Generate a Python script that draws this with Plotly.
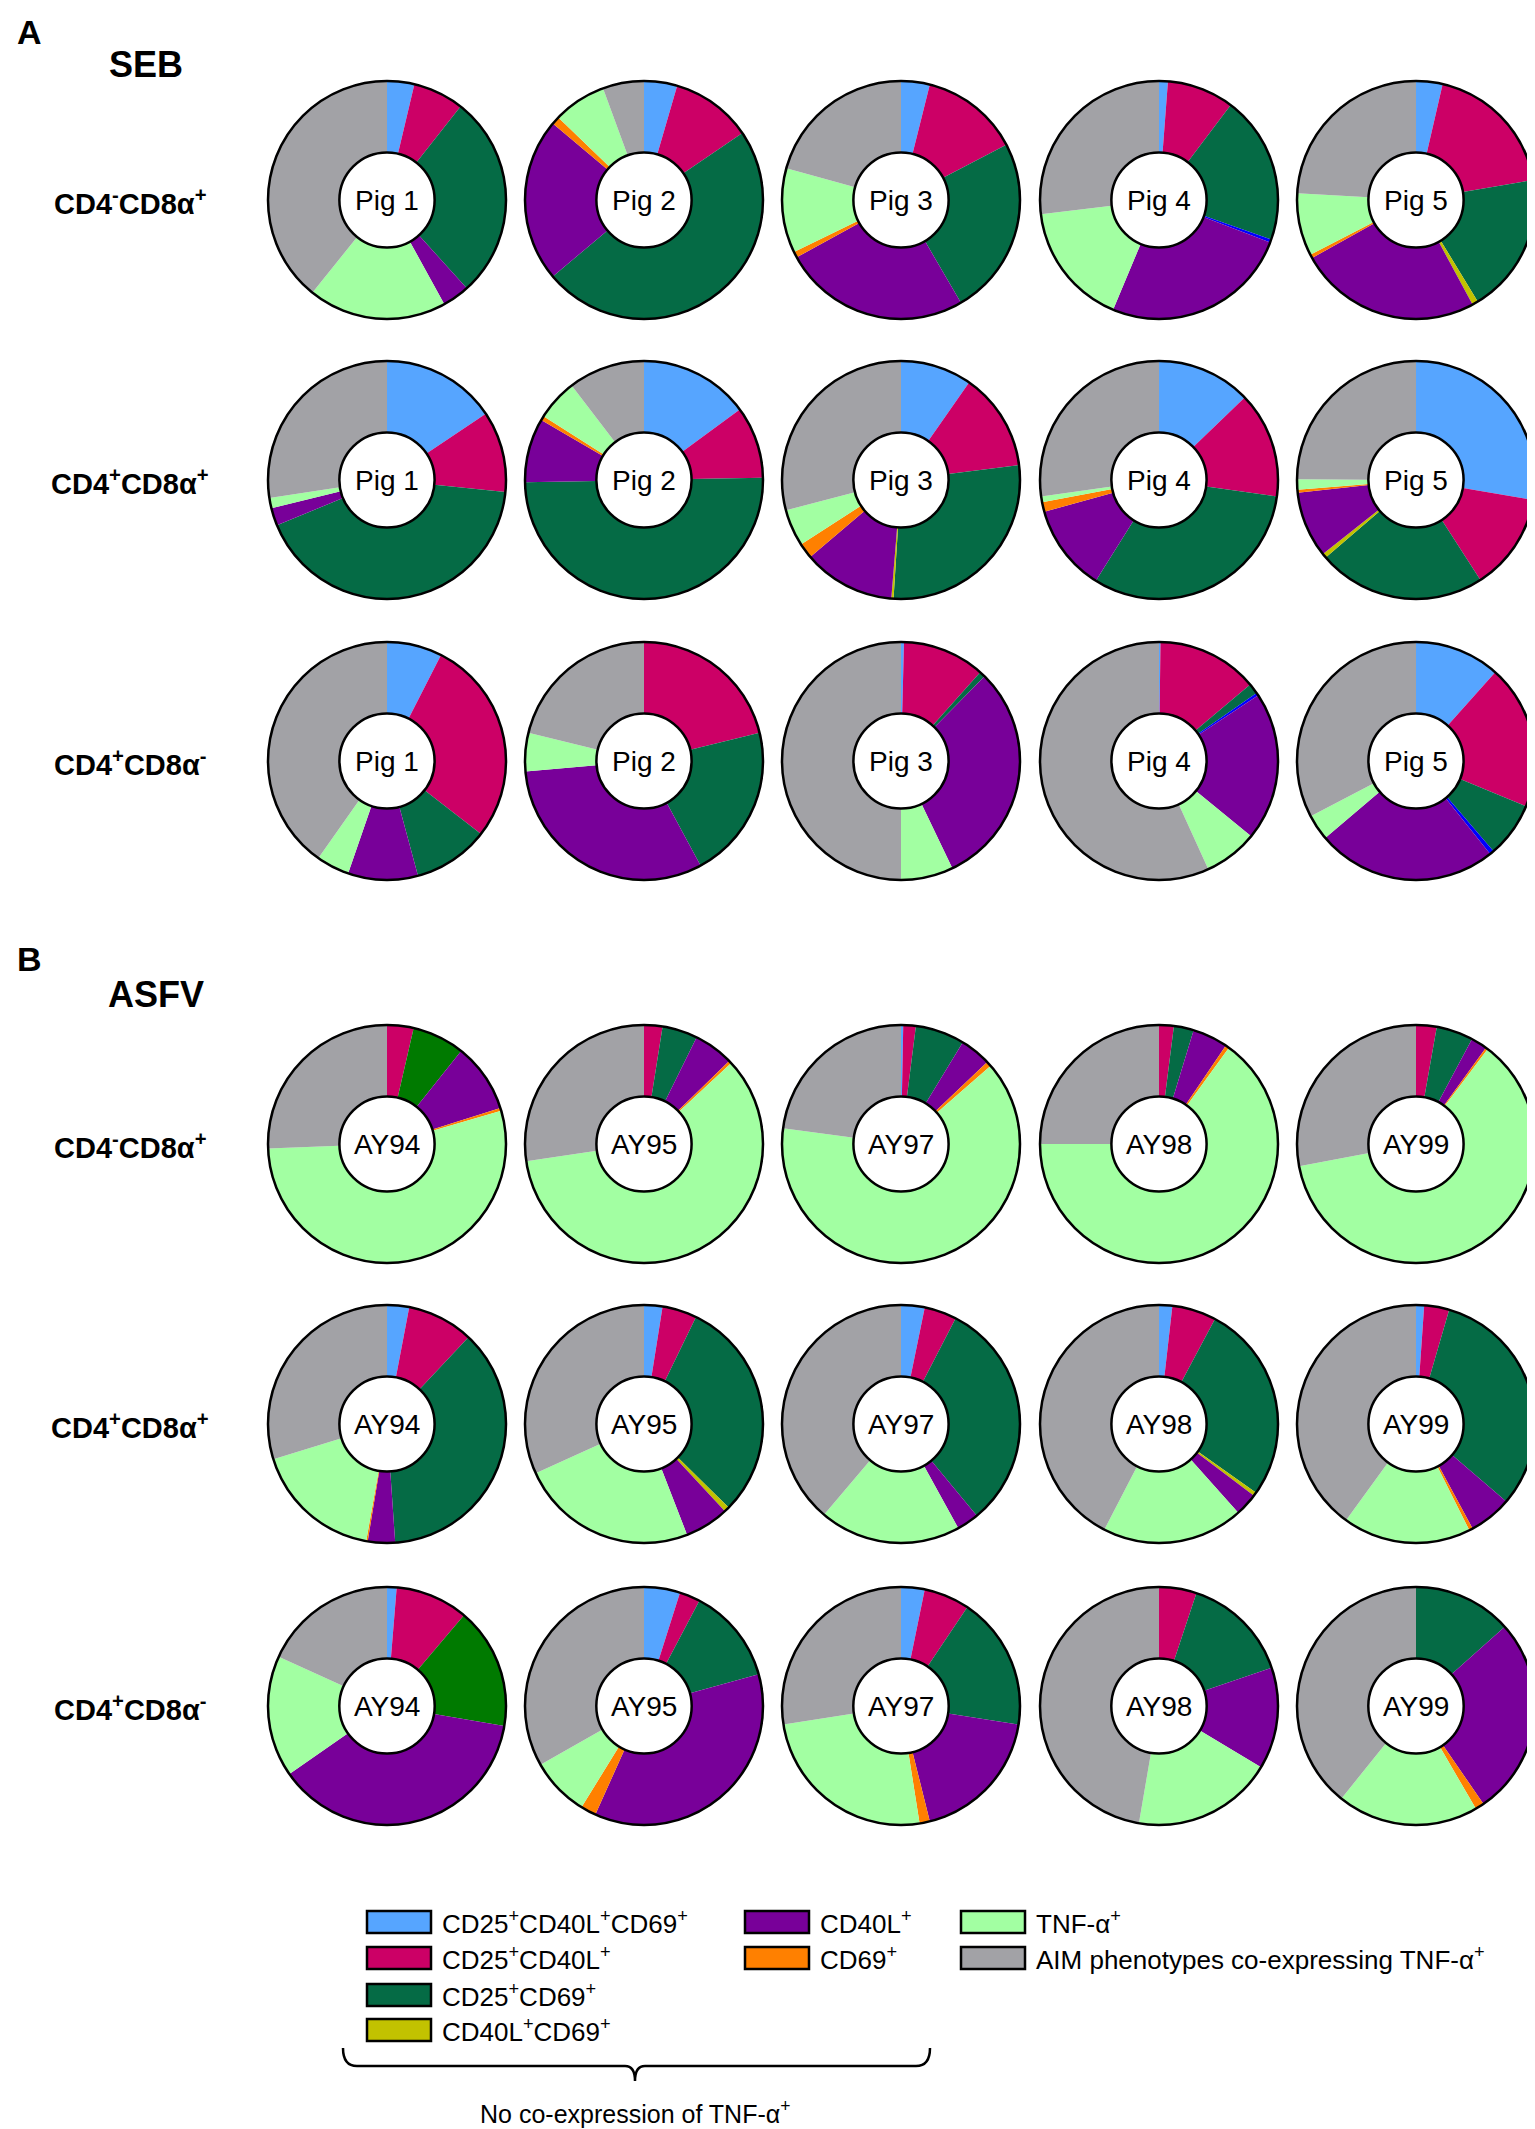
import plotly.graph_objects as go

W, H = 1535, 2129

# slice order, clockwise from 12 o'clock
categories = ["CD25+CD40L+CD69+", "CD25+CD40L+", "CD25+CD69+", "CD25+CD69+ (alt)",
              "other", "CD40L+CD69+", "CD40L+", "CD69+", "TNF-a+", "AIM + TNF-a+"]
colors = ["#56A5FF", "#CC0066", "#056B45", "#007A00", "#0000FF",
          "#C2C200", "#780099", "#FF8000", "#A2FFA2", "#A2A2A6"]

seb_pigs = ["Pig 1", "Pig 2", "Pig 3", "Pig 4", "Pig 5"]
asfv_pigs = ["AY94", "AY95", "AY97", "AY98", "AY99"]
row_labels = ["CD4<sup>-</sup>CD8α<sup>+</sup>", "CD4<sup>+</sup>CD8α<sup>+</sup>",
              "CD4<sup>+</sup>CD8α<sup>-</sup>"]

# fractions per pig, same order as categories
seb_cd4n_cd8p = [
    [.037, .069, .277, 0, 0, 0, .037, 0, .188, .392],
    [.045, .110, .484, 0, 0, 0, .222, .011, .072, .056],
    [.039, .134, .243, 0, 0, 0, .254, .008, .115, .207],
    [.012, .091, .201, 0, .004, 0, .255, 0, .168, .269],
    [.036, .187, .190, 0, 0, .008, .248, .005, .085, .241],
]
seb_cd4p_cd8p = [
    [.156, .110, .422, 0, 0, 0, .024, 0, .014, .274],
    [.149, .098, .500, 0, 0, 0, .087, .006, .056, .104],
    [.097, .133, .280, 0, 0, .003, .125, .021, .050, .291],
    [.128, .144, .317, 0, 0, 0, .118, .013, .008, .272],
    [.277, .132, .228, 0, 0, .006, .090, .004, .014, .249],
]
seb_cd4p_cd8n = [
    [.075, .280, .103, 0, 0, 0, .095, 0, .045, .402],
    [0, .212, .209, 0, 0, 0, .315, 0, .052, .212],
    [.004, .112, .008, 0, 0, 0, .305, 0, .071, .500],
    [.002, .137, .014, 0, .004, 0, .202, 0, .073, .568],
    [.116, .196, .075, 0, .006, 0, .245, 0, .035, .327],
]
asfv_cd4n_cd8p = [
    [0, .036, 0, .071, 0, 0, .094, .004, .539, .256],
    [0, .025, .048, 0, 0, 0, .054, .004, .596, .273],
    [.003, .017, .067, 0, 0, 0, .042, .007, .635, .229],
    [0, .020, .027, 0, 0, 0, .048, .005, .650, .250],
    [0, .028, .050, 0, 0, 0, .022, .003, .617, .280],
]
asfv_cd4p_cd8p = [
    [.030, .090, .369, 0, 0, 0, .037, .002, .174, .298],
    [.025, .047, .302, 0, 0, .007, .060, 0, .241, .318],
    [.032, .044, .314, 0, 0, 0, .030, 0, .192, .388],
    [.018, .060, .270, 0, 0, .005, .031, 0, .192, .424],
    [.011, .034, .318, 0, 0, 0, .058, .005, .174, .400],
]
asfv_cd4p_cd8n = [
    [.013, .099, 0, .165, 0, 0, .376, 0, .165, .182],
    [.049, .028, .130, 0, 0, 0, .360, .021, .080, .332],
    [.032, .062, .181, 0, 0, 0, .186, .014, .250, .275],
    [0, .051, .147, 0, 0, 0, .138, 0, .191, .473],
    [0, 0, .134, 0, 0, 0, .270, .012, .192, .392],
]

legend_cols = [
    [("CD25<sup>+</sup>CD40L<sup>+</sup>CD69<sup>+</sup>", colors[0]),
     ("CD25<sup>+</sup>CD40L<sup>+</sup>", colors[1]),
     ("CD25<sup>+</sup>CD69<sup>+</sup>", colors[2]),
     ("CD40L<sup>+</sup>CD69<sup>+</sup>", colors[5])],
    [("CD40L<sup>+</sup>", colors[6]),
     ("CD69<sup>+</sup>", colors[7])],
    [("TNF-α<sup>+</sup>", colors[8]),
     ("AIM phenotypes co-expressing TNF-α<sup>+</sup>", colors[9])],
]

FONT = "Liberation Sans, Arial, sans-serif"
col_x = [379, 636, 893, 1151, 1408]
row_y = [192, 472, 753, 1136, 1416, 1698]
R = 119


def X(px):
    return px / W


def Y(py):
    return 1 - py / H


def label(x, y, text, size, anchor="center"):
    return dict(x=X(x), y=Y(y), xref="paper", yref="paper", text=text, showarrow=False,
                xanchor=anchor, yanchor="middle",
                font=dict(family=FONT, size=size, color="black"))


fig = go.Figure()
annotations = []
shapes = []

groups = [(seb_cd4n_cd8p, seb_pigs), (seb_cd4p_cd8p, seb_pigs), (seb_cd4p_cd8n, seb_pigs),
          (asfv_cd4n_cd8p, asfv_pigs), (asfv_cd4p_cd8p, asfv_pigs), (asfv_cd4p_cd8n, asfv_pigs)]

for r, (rows, names) in enumerate(groups):
    cy = row_y[r]
    for c, vals in enumerate(rows):
        cx = col_x[c]
        dom = dict(x=[X(cx - R), X(cx + R)], y=[Y(cy + R), Y(cy - R)])
        fig.add_trace(go.Pie(
            values=vals, labels=categories, marker=dict(colors=colors, line=dict(width=0)),
            hole=0.4, sort=False, direction="clockwise", rotation=0,
            textinfo="none", domain=dom, showlegend=False, hoverinfo="label+percent"))
        # outline ring
        fig.add_trace(go.Pie(
            values=[1], labels=["ring"], marker=dict(colors=["rgba(0,0,0,0)"],
                                                     line=dict(color="black", width=2.5)),
            hole=0.4, sort=False, textinfo="none", domain=dom, showlegend=False,
            hoverinfo="skip"))
        annotations.append(label(cx, cy, names[c], 28))
    annotations.append(label(122, cy + 2, "<b>" + row_labels[r % 3] + "</b>", 29))

for txt, x, y, size in [("A", 21, 24, 34), ("SEB", 138, 56, 36),
                        ("B", 21, 951, 34), ("ASFV", 148, 986, 36)]:
    annotations.append(label(x, y, "<b>" + txt + "</b>", size))

# legend drawn manually
sw_x = [359, 737, 953]
leg_y = [1914, 1950, 1987, 2022]
for ci, items in enumerate(legend_cols):
    for ri, (text, col) in enumerate(items):
        y = leg_y[ri]
        shapes.append(dict(type="rect", xref="paper", yref="paper",
                           x0=X(sw_x[ci]), x1=X(sw_x[ci] + 64), y0=Y(y - 11), y1=Y(y + 11),
                           fillcolor=col, line=dict(color="black", width=2.5)))
        annotations.append(label(sw_x[ci] + 73, y, text, 26, anchor="left"))

# brace under the first two legend columns
bx0, bx1, bm = 335, 922, 627
by0, by1, btip = 2040, 2058, 2073
brace = (f"M {X(bx0)},{Y(by0)} Q {X(bx0)},{Y(by1)} {X(bx0 + 14)},{Y(by1)} "
         f"L {X(bm - 10)},{Y(by1)} Q {X(bm)},{Y(by1)} {X(bm)},{Y(btip)} "
         f"Q {X(bm)},{Y(by1)} {X(bm + 10)},{Y(by1)} "
         f"L {X(bx1 - 14)},{Y(by1)} Q {X(bx1)},{Y(by1)} {X(bx1)},{Y(by0)}")
shapes.append(dict(type="path", xref="paper", yref="paper", path=brace,
                   line=dict(color="black", width=2.5)))
annotations.append(label(bm, 2104, "No co-expression of TNF-α<sup>+</sup>", 25))

fig.update_layout(width=W, height=H, margin=dict(l=0, r=0, t=0, b=0),
                  paper_bgcolor="white", plot_bgcolor="white",
                  annotations=annotations, shapes=shapes, showlegend=False)
fig.write_html("out.html")
